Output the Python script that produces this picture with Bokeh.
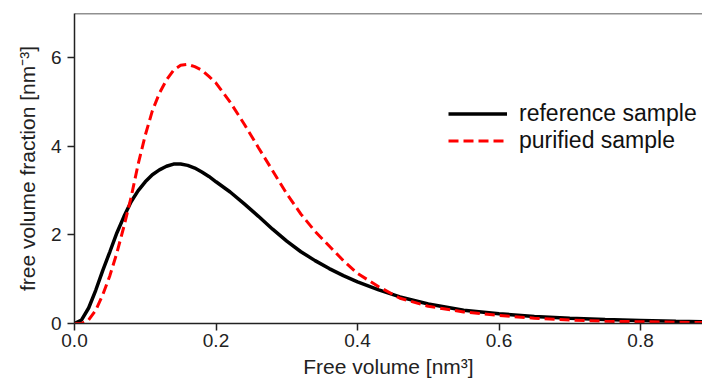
from bokeh.plotting import figure
from bokeh.models import Range1d, Span, Legend, LegendItem, FixedTicker
from bokeh.embed import file_html
from bokeh.resources import INLINE

# Data
free_volume = [0.00, 0.01, 0.02, 0.03, 0.04, 0.05, 0.06, 0.07, 0.08, 0.09,
               0.10, 0.11, 0.12, 0.13, 0.14, 0.15, 0.16, 0.17, 0.18, 0.19,
               0.20, 0.22, 0.24, 0.26, 0.28, 0.30, 0.32, 0.34, 0.36, 0.38,
               0.40, 0.43, 0.46, 0.50, 0.55, 0.60, 0.65, 0.70, 0.75, 0.80,
               0.85, 0.89]
reference_sample = [0.00, 0.08, 0.35, 0.75, 1.20, 1.62, 2.05, 2.42, 2.75, 3.00,
                    3.20, 3.36, 3.47, 3.55, 3.60, 3.60, 3.57, 3.51, 3.42, 3.32,
                    3.20, 2.97, 2.70, 2.42, 2.13, 1.86, 1.62, 1.42, 1.24, 1.08,
                    0.94, 0.76, 0.60, 0.44, 0.30, 0.22, 0.16, 0.12, 0.09, 0.07,
                    0.05, 0.04]
purified_sample = [0.00, 0.00, 0.08, 0.30, 0.65, 1.08, 1.60, 2.20, 2.85, 3.60,
                   4.25, 4.80, 5.20, 5.50, 5.72, 5.83, 5.85, 5.80, 5.72, 5.58,
                   5.43, 5.00, 4.50, 3.97, 3.45, 2.93, 2.47, 2.08, 1.75, 1.42,
                   1.13, 0.83, 0.57, 0.39, 0.26, 0.18, 0.12, 0.08, 0.05, 0.04,
                   0.03, 0.02]
x_ticks = [0.0, 0.2, 0.4, 0.6, 0.8]
y_ticks = [0, 2, 4, 6]

FONT = "Liberation Sans"

p = figure(width=702, height=380, output_backend="svg", toolbar_location=None,
           x_range=Range1d(0, 0.8876), y_range=Range1d(0, 7.0),
           min_border_left=74, min_border_right=0, min_border_top=13,
           min_border_bottom=57)
p.background_fill_color = "white"
p.border_fill_color = "white"
p.outline_line_color = None
p.grid.visible = False

r1 = p.line(free_volume, reference_sample, line_color="black", line_width=3.5)
r2 = p.line(free_volume, purified_sample, line_color="#ff0000", line_width=3,
            line_dash="10 5")

p.add_layout(Span(location=7.0, dimension="width", line_color="#222222",
                  line_width=1.5))

for ax in (p.xaxis[0], p.yaxis[0]):
    ax.axis_line_color = "#222222"
    ax.axis_line_width = 1.5
    ax.major_tick_line_color = "#222222"
    ax.major_tick_line_width = 1.5
    ax.major_tick_out = 7
    ax.major_tick_in = 0
    ax.minor_tick_line_color = None
    ax.major_label_text_font = FONT
    ax.major_label_text_font_size = "19px"
    ax.major_label_text_color = "#222222"
    ax.axis_label_text_font = FONT
    ax.axis_label_text_font_size = "21px"
    ax.axis_label_text_font_style = "normal"
    ax.axis_label_text_color = "#222222"

p.xaxis.ticker = FixedTicker(ticks=x_ticks)
p.yaxis.ticker = FixedTicker(ticks=y_ticks)
p.xaxis.major_label_overrides = {t: f"{t:.1f}" for t in x_ticks}
p.xaxis.major_label_standoff = 3
p.xaxis.axis_label_standoff = 5
p.yaxis.major_label_standoff = 6
p.yaxis.axis_label_standoff = 9
p.xaxis.axis_label = "Free volume [nm³]"
p.yaxis.axis_label = "free volume fraction [nm⁻³]"

legend = Legend(items=[LegendItem(label="reference sample", renderers=[r1]),
                       LegendItem(label="purified sample", renderers=[r2])],
                location=(374, 169), padding=0, margin=0, spacing=-2,
                glyph_width=59, glyph_height=25, label_height=25,
                label_standoff=12, label_text_font=FONT,
                label_text_font_size="23px", label_text_color="#111111",
                border_line_color=None, background_fill_alpha=0)
p.add_layout(legend)

open("out.html", "w").write(file_html(p, INLINE))
